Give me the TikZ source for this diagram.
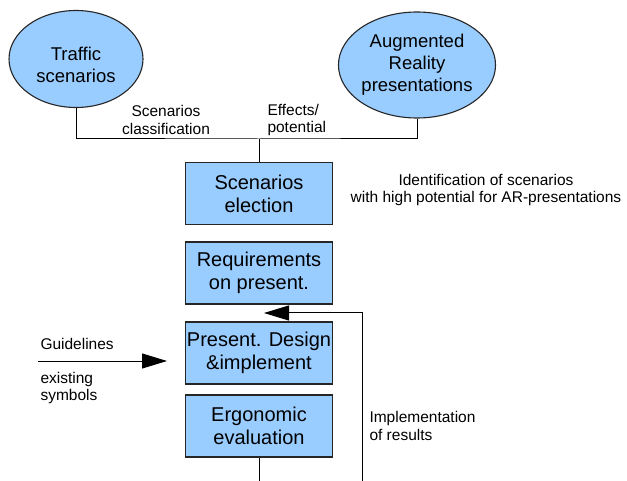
\documentclass[tikz,border=0pt]{standalone}
\usepackage{fontspec}
\setmainfont{Liberation Sans}
\usetikzlibrary{shapes.geometric,arrows.meta}
\definecolor{boxblue}{RGB}{153,204,255}
\tikzset{
  box/.style={draw=black!85,fill=boxblue,line width=1.1pt,minimum width=147pt,minimum height=62pt,inner sep=0pt,align=center,font=\fontsize{20}{23}\selectfont},
  oval/.style={ellipse,draw=black!85,fill=boxblue,line width=1.1pt,inner sep=0pt,align=center,font=\fontsize{18.5}{22}\selectfont},
  lbl/.style={font=\fontsize{15.5}{17.5}\selectfont,inner sep=0pt},
  bigtip/.style={-{Triangle[length=25pt,width=15pt]}},
}
\begin{document}
\begin{tikzpicture}[x=1pt,y=-1pt,line width=1pt]
\useasboundingbox (0,0) rectangle (627,481);
\node[oval,minimum width=134pt,minimum height=97pt](traffic) at(76,59){};
\node[align=center,inner sep=0pt,font=\fontsize{18.5}{22}\selectfont](traffictxt) at(76,65){Traffic\\scenarios};
\node[oval,minimum width=144pt,minimum height=106pt](ar) at(417,65){Augmented\\Reality\\presentations};
\node[box](sel) at(259,193.5){Scenarios\\election};
\node[box](req) at(259,273){Requirements\\on present.};
\node[box](des) at(259,353){Present. Design\\\&implement};
\node[box](ergo) at(259,426){Ergonomic\\evaluation};
% labels
\node[lbl,align=center](cls) at(166,120){Scenarios\\classification};
\node[lbl,align=left,anchor=west](eff) at(267,120){Effects/\\potential};
\node[lbl,align=center](ident) at(486,190){Identification of scenarios\\with high potential for AR-presentations};
\node[lbl,anchor=west](guide) at(40,344){Guidelines};
\node[lbl,align=left,anchor=west](sym) at(40,388){existing\\symbols};
\node[lbl,align=left,anchor=west](impl) at(369,426){Implementation\\of results};
% connectors
\coordinate (jn) at(259,139);
\draw(traffic.south)|-(jn)-|(ar.south);
\draw(jn)--(sel.north);
\coordinate (glstart) at(38,361);
\coordinate (gltip) at(167,361);
\draw[bigtip](glstart)--(gltip);
\coordinate (fbfoot) at(362,481);
\coordinate (fbtip) at(264,313);
\draw[bigtip](fbfoot)|-(fbtip);
\draw(ergo.south)--(ergo.south|-fbfoot);
\end{tikzpicture}
\end{document}
